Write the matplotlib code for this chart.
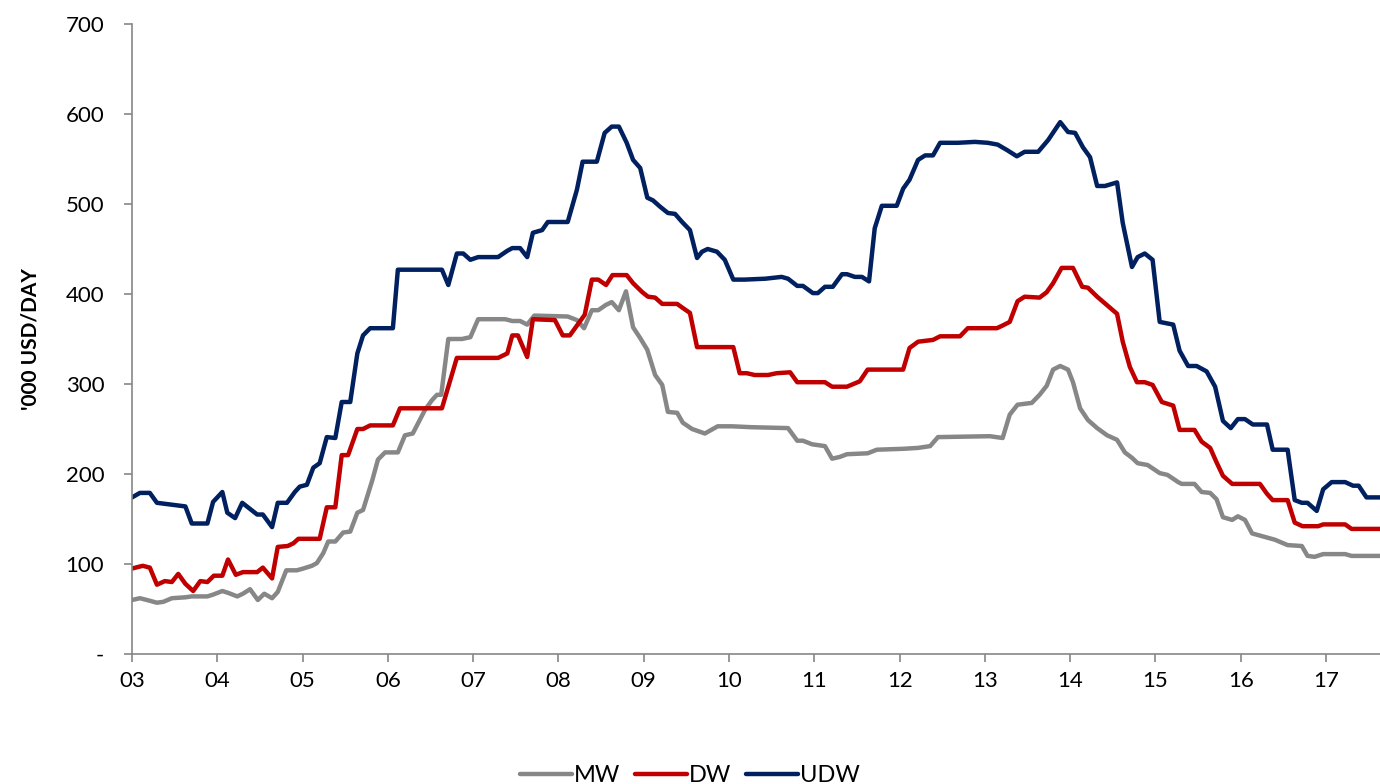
import numpy as np
import matplotlib.pyplot as plt

plt.rcParams['font.family'] = ['Lato', 'DejaVu Sans']

# months since Jan 2003, values in '000 USD/day
udw_m = [0, 1.1, 2.5, 3.5, 7.5, 8.4, 10.6, 11.4, 12.7, 13.4, 14.5, 15.5, 17.6, 18.4, 19.7,
         20.5, 21.8, 22.9, 23.6, 24.6, 25.5, 26.4, 27.4, 28.6, 29.5, 30.7, 31.7, 32.5, 33.5,
         36.7, 37.4, 43.6, 44.5, 45.7, 46.6, 47.6, 48.7, 51.5, 52.8, 53.5, 54.6, 55.6, 56.4,
         57.7, 58.5, 61.3, 62.6, 63.4, 65.4, 66.5, 67.5, 68.5, 69.6, 70.5, 71.5, 72.5, 73.3,
         74.3, 75.4, 76.4, 77.4, 78.5, 79.5, 80.2, 81.0, 82.3, 83.4, 84.6, 86.2, 89.1, 91.4,
         92.3, 93.6, 94.4, 95.8, 96.5, 97.5, 98.6, 99.9, 100.6, 101.7, 102.7, 103.7, 104.5,
         105.5, 107.6, 108.5, 109.4, 110.6, 111.6, 112.7, 113.7, 116.2, 118.6, 120.4, 121.8,
         123.1, 124.5, 125.6, 127.5, 128.9, 130.6, 131.7, 132.7, 133.8, 134.8, 135.8, 136.9,
         138.6, 139.4, 140.7, 141.5, 142.5, 143.6, 144.6, 146.5, 147.4, 148.6, 149.8, 151.2,
         152.4, 153.5, 154.6, 155.6, 156.6, 157.7, 159.7, 160.5, 162.6, 163.6, 164.6, 165.4,
         166.7, 167.6, 168.8, 170.7, 171.8, 172.6, 173.7, 175.6]
udw_v = [174, 179, 179, 168, 164, 145, 145, 169, 180, 157, 151, 168, 155, 155, 141,
         168, 168, 180, 186, 188, 207, 212, 241, 240, 280, 280, 334, 354, 362,
         362, 427, 427, 410, 445, 445, 438, 441, 441, 448, 451, 451, 441, 468,
         471, 480, 480, 516, 547, 547, 579, 586, 586, 568, 549, 540, 507, 504,
         497, 490, 489, 480, 471, 440, 447, 450, 447, 438, 416, 416, 417, 419,
         417, 409, 409, 401, 401, 408, 408, 422, 422, 419, 419, 414, 473,
         498, 498, 517, 527, 549, 554, 554, 568, 568, 569, 568, 566,
         560, 553, 558, 558, 571, 591, 580, 579, 563, 552, 520, 520,
         524, 479, 430, 441, 445, 438, 369, 366, 337, 320, 320, 314,
         297, 259, 251, 261, 261, 255, 255, 227, 227, 171, 168, 168,
         159, 183, 191, 191, 187, 187, 174, 174]

dw_m = [0, 1.5, 2.5, 3.5, 4.6, 5.6, 6.5, 7.5, 8.6, 9.6, 10.6, 11.5, 12.7, 13.5, 14.6,
        15.6, 17.6, 18.4, 19.7, 20.5, 21.9, 22.7, 23.4, 26.4, 27.4, 28.6, 29.5, 30.4, 31.7,
        32.5, 33.5, 36.7, 37.7, 43.6, 45.7, 51.5, 52.8, 53.5, 54.3, 55.6, 56.4, 59.5, 60.6,
        61.6, 63.7, 64.7, 65.6, 66.7, 67.6, 69.6, 70.5, 71.8, 72.6, 73.6, 74.6, 76.7, 77.4,
        78.5, 79.5, 84.6, 85.5, 86.5, 87.6, 89.5, 90.7, 92.6, 93.6, 97.5, 98.5, 100.6, 102.4,
        103.5, 108.5, 109.4, 110.6, 112.7, 113.7, 116.5, 117.6, 121.7, 122.5, 123.5, 124.6,
        125.6, 127.7, 128.7, 129.6, 130.8, 132.4, 133.7, 134.5, 135.8, 138.6, 139.4, 140.4,
        141.4, 142.5, 143.6, 144.9, 146.5, 147.4, 149.5, 150.5, 151.7, 152.6, 153.5, 154.8,
        158.7, 159.7, 160.5, 162.6, 163.6, 164.7, 166.9, 167.6, 170.7, 171.6, 175.6]
dw_v = [95, 98, 96, 77, 81, 80, 89, 78, 70, 81, 80, 87, 87, 105, 88,
        91, 91, 96, 84, 119, 120, 123, 128, 128, 163, 163, 221, 221, 250,
        250, 254, 254, 273, 273, 329, 329, 334, 354, 354, 330, 372, 371, 354,
        354, 377, 416, 416, 410, 421, 421, 412, 402, 397, 396, 389, 389, 385,
        379, 341, 341, 312, 312, 310, 310, 312, 313, 302, 302, 297, 297, 303,
        316, 316, 340, 347, 349, 353, 353, 362, 362, 365, 369, 392,
        397, 396, 402, 412, 429, 429, 408, 407, 397, 378, 347, 319,
        302, 302, 299, 280, 276, 249, 249, 236, 229, 213, 198, 189,
        189, 178, 171, 171, 146, 142, 142, 144, 144, 139, 139]

mw_m = [0, 1.1, 2.1, 3.5, 4.4, 5.6, 7.5, 8.4, 10.6, 11.4, 12.7, 13.5, 14.8, 15.6, 16.6,
        17.7, 18.6, 19.7, 20.5, 21.7, 23.2, 24.1, 25.3, 26.0, 26.9, 27.6, 28.6, 29.7, 30.7,
        31.7, 32.5, 33.8, 34.6, 35.6, 37.4, 38.4, 39.5, 41.2, 42.2, 42.9, 43.5, 44.5, 46.4,
        47.6, 48.7, 52.5, 53.5, 54.6, 55.6, 56.6, 61.3, 62.6, 63.6, 64.7, 65.6, 66.7, 67.5,
        68.5, 69.5, 70.5, 71.5, 72.5, 73.6, 74.6, 75.4, 76.7, 77.5, 78.8, 80.6, 82.4, 84.4,
        87.2, 92.3, 93.6, 94.4, 95.7, 97.5, 98.5, 99.6, 100.6, 103.5, 104.8, 108.5, 110.6,
        112.3, 113.4, 120.7, 122.5, 123.5, 124.6, 126.6, 127.7, 128.7, 129.6, 130.6, 131.7,
        132.4, 133.4, 134.5, 135.8, 137.2, 138.6, 139.7, 140.7, 141.5, 142.9, 144.6, 145.7,
        147.2, 147.7, 149.5, 150.5, 151.7, 152.6, 153.5, 154.8, 155.6, 156.6, 157.6, 159.4,
        160.8, 162.6, 164.6, 165.4, 166.4, 167.6, 170.7, 171.6, 175.6]
mw_v = [60, 62, 60, 57, 58, 62, 63, 64, 64, 66, 70, 68, 64, 67, 72,
        60, 67, 62, 69, 93, 93, 95, 98, 101, 112, 125, 125, 135, 136,
        157, 160, 193, 216, 224, 224, 243, 245, 271, 282, 288, 288, 350, 350,
        352, 372, 372, 370, 370, 366, 376, 375, 371, 362, 382, 382, 388, 391,
        382, 403, 363, 351, 338, 310, 299, 269, 268, 257, 250, 245, 253, 253,
        252, 251, 237, 237, 233, 231, 217, 219, 222, 223, 227, 228, 229,
        231, 241, 242, 240, 266, 277, 279, 288, 298, 316, 320, 316,
        302, 273, 260, 251, 243, 238, 224, 218, 212, 210, 201, 199,
        191, 189, 189, 180, 179, 172, 152, 149, 153, 149, 134, 130,
        127, 121, 120, 109, 108, 111, 111, 109, 109]

series = [("MW", mw_m, mw_v, "#878787"),
          ("DW", dw_m, dw_v, "#C00000"),
          ("UDW", udw_m, udw_v, "#002060")]

years = np.arange(2003, 2018)
year_labels = [f"{y % 100:02d}" for y in years]
y_ticks = np.arange(0, 701, 100)
y_labels = ["-"] + [str(v) for v in y_ticks[1:]]

fig = plt.figure(figsize=(13.8, 7.84), dpi=100)
ax = fig.add_axes([0.0957, 0.1658, 0.9043, 0.8036])

for name, m, v, c in series:
    x = 2003 + np.asarray(m) / 12.0
    ax.plot(x, v, color=c, lw=3.2, label=name,
            solid_joinstyle='round', solid_capstyle='round')

ax.set_xlim(2003, 2003 + 175.6 / 12)
ax.set_ylim(0, 700)
ax.set_xticks(years)
ax.set_xticklabels(year_labels)
ax.set_yticks(y_ticks)
ax.set_yticklabels(y_labels)
ax.tick_params(axis='both', labelsize=16, colors='#868686', length=6, width=1.2,
               labelcolor='black', direction='out')
ax.tick_params(axis='x', pad=6)
ax.tick_params(axis='y', pad=14)
for s in ['top', 'right']:
    ax.spines[s].set_visible(False)
for s in ['left', 'bottom']:
    ax.spines[s].set_color('#868686')
    ax.spines[s].set_linewidth(1.2)

fig.text(0.022, 0.567, "'000 USD/DAY", rotation=90, va='center', ha='center',
         fontsize=15, fontweight='bold')

fig.legend(loc='lower center', bbox_to_anchor=(0.5, -0.03), ncol=3, frameon=False,
           fontsize=17, handlelength=2.2, handletextpad=0.1, columnspacing=0.6)

fig.savefig("out.png", dpi=100)
